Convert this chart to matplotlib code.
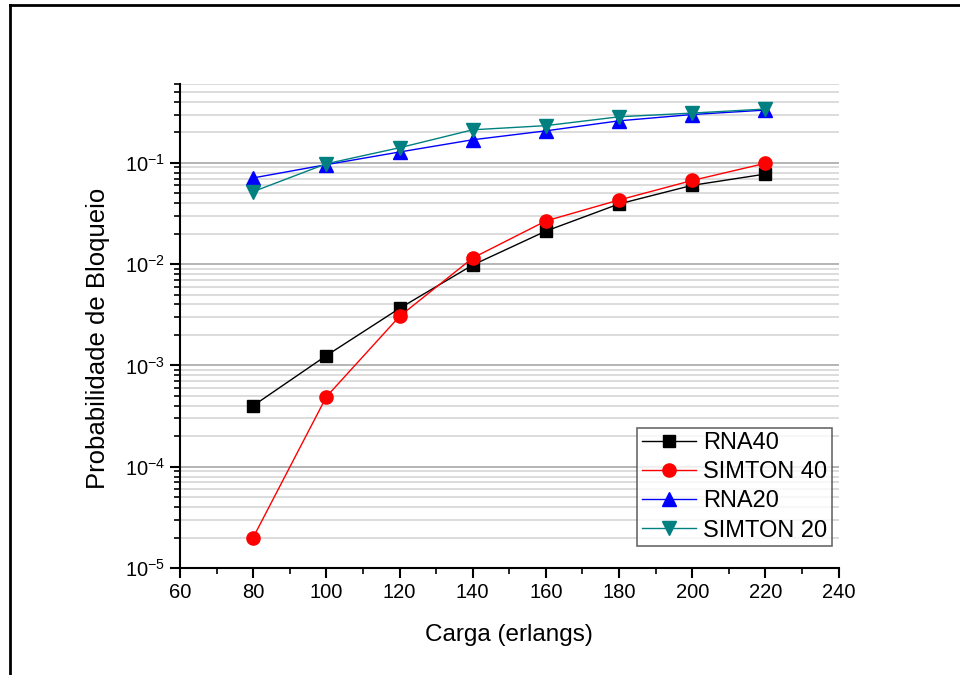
import numpy as np
import matplotlib
matplotlib.use('Agg')
import matplotlib.pyplot as plt
from matplotlib.lines import Line2D
from matplotlib.ticker import LogLocator, LogFormatterSciNotation, MultipleLocator, NullFormatter

plt.rcParams['font.family'] = ['Liberation Sans', 'DejaVu Sans']
plt.rcParams['mathtext.fontset'] = 'custom'
plt.rcParams['mathtext.rm'] = 'Liberation Sans'

# Carga (erlangs)
carga = [80, 100, 120, 140, 160, 180, 200, 220]

# Probabilidade de bloqueio por serie
rna40 = [4.0e-4, 1.25e-3, 3.66e-3, 9.8e-3, 0.0212, 0.0393, 0.0600, 0.0775]
simton40 = [2.0e-5, 4.9e-4, 3.05e-3, 0.0115, 0.0267, 0.0430, 0.0670, 0.0990]
rna20 = [0.071, 0.096, 0.128, 0.169, 0.207, 0.260, 0.300, 0.332]
simton20 = [0.052, 0.098, 0.141, 0.212, 0.233, 0.285, 0.310, 0.340]

fig = plt.figure(figsize=(9.6, 6.75), dpi=100)
ax = fig.add_axes([0.1875, 0.1585, 0.686, 0.717])

ax.plot(carga, rna40, color='black', marker='s', markersize=8.5, linewidth=1, label='RNA40')
ax.plot(carga, simton40, color='red', marker='o', markersize=9.5, linewidth=1, label='SIMTON 40')
ax.plot(carga, rna20, color='#0000ff', marker='^', markersize=9.5, linewidth=1, label='RNA20')
ax.plot(carga, simton20, color='#008080', marker='v', markersize=9.5, linewidth=1, label='SIMTON 20')

ax.set_yscale('log')
ax.set_xlim(60, 240)
ax.set_ylim(1e-5, 0.6)

# Axes
ax.spines['top'].set_visible(False)
ax.spines['right'].set_visible(False)
ax.spines['left'].set_linewidth(1.5)
ax.spines['bottom'].set_linewidth(1.5)

ax.xaxis.set_major_locator(MultipleLocator(20))
ax.xaxis.set_minor_locator(MultipleLocator(10))
ax.yaxis.set_major_locator(LogLocator(base=10, numticks=10))
ax.yaxis.set_minor_locator(LogLocator(base=10, subs=np.arange(2, 10), numticks=20))
ax.yaxis.set_major_formatter(LogFormatterSciNotation())
ax.yaxis.set_minor_formatter(NullFormatter())

ax.tick_params(which='major', direction='out', length=7, width=1.5, labelsize=14.5)
ax.tick_params(which='minor', direction='out', length=4, width=1.2)

# Horizontal gridlines
ax.grid(which='major', axis='y', color='#a8a8a8', linewidth=1.2)
ax.grid(which='minor', axis='y', color='#d6d6d6', linewidth=1.2)
ax.set_axisbelow(True)

ax.set_xlabel('Carga (erlangs)', fontsize=17.5, labelpad=16)
ax.set_ylabel('Probabilidade de Bloqueio', fontsize=18.5)
ax.yaxis.set_label_coords(-0.107, 0.475)

leg = ax.legend(loc='lower right', bbox_to_anchor=(0.99, 0.045), fontsize=17,
                frameon=True, fancybox=False, edgecolor='#444444',
                handlelength=2.3, borderpad=0.2, labelspacing=0.3, handletextpad=0.3,
                borderaxespad=0)
leg.get_frame().set_linewidth(1.2)

# Outer frame (left and top only)
fig.add_artist(Line2D([10 / 960, 10 / 960], [0, 1 - 5 / 675], transform=fig.transFigure,
                      color='black', linewidth=2))
fig.add_artist(Line2D([10 / 960, 1], [1 - 5 / 675, 1 - 5 / 675], transform=fig.transFigure,
                      color='black', linewidth=2))

fig.savefig('out.png', dpi=100)
